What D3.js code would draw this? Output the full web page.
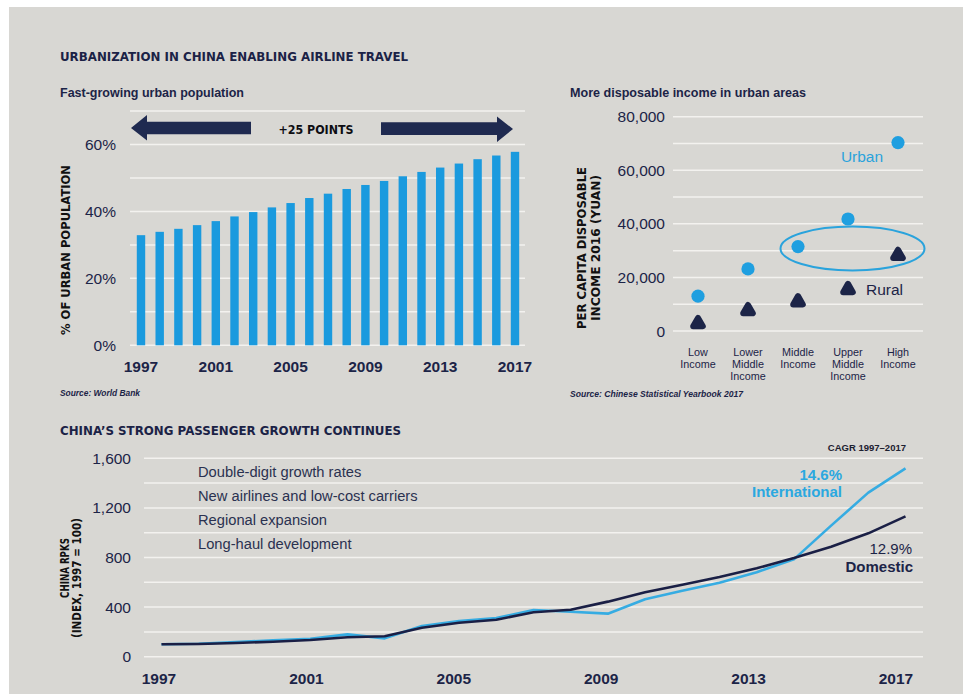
<!DOCTYPE html>
<html>
<head>
<meta charset="utf-8">
<script src="https://cdn.jsdelivr.net/npm/d3@7"></script>
<style>
  html, body { margin: 0; padding: 0; background: #ffffff; }
  svg { display: block; font-family: "Liberation Sans", Arial, Helvetica, sans-serif; }
</style>
</head>
<body>
<svg id="chart" width="966" height="694"></svg>
<script>
// ---------- DATA ----------
const years = d3.range(1997, 2018);
const urbanShare = [32.9, 33.9, 34.8, 35.9, 37.1, 38.5, 39.8, 41.2, 42.5, 44.0, 45.3, 46.7, 47.9, 49.1, 50.5, 51.8, 53.1, 54.3, 55.6, 56.7, 57.8];
const barYTicks = [0, 20, 40, 60];
const barXTicks = [1997, 2001, 2005, 2009, 2013, 2017];

const incomeGroups = ["Low Income", "Lower Middle Income", "Middle Income", "Upper Middle Income", "High Income"];
const incomeLabels = [["Low", "Income"], ["Lower", "Middle", "Income"], ["Middle", "Income"], ["Upper", "Middle", "Income"], ["High", "Income"]];
const urbanIncome = [13004, 23189, 31522, 41806, 70348];
const ruralIncome = [3006, 7828, 11159, 15727, 28448];
const incomeTicks = [0, 20000, 40000, 60000, 80000];

const rpkYears = d3.range(1997, 2018);
const domestic = [100, 102, 110, 121, 135, 157, 165, 234, 274, 298, 358, 379, 444, 519, 581, 643, 713, 796, 887, 995, 1132];
const international = [100, 105, 118, 132, 145, 180, 148, 248, 288, 312, 376, 363, 347, 463, 532, 597, 681, 785, 1057, 1323, 1519];
const rpkYTicks = [0, 400, 800, 1200, 1600];
const rpkXTicks = [1997, 2001, 2005, 2009, 2013, 2017];
const bullets = ["Double-digit growth rates", "New airlines and low-cost carriers", "Regional expansion", "Long-haul development"];

// ---------- STYLE ----------
const NAVY = "#1c2447";
const BAR = "#1a9ade";
const URBAN = "#1f9fe0";
const LIGHT = "#36ace2";
const GRID = "#f3f2ef";
const HEAVY = "'DejaVu Sans', 'Liberation Sans', Arial, sans-serif";

const svg = d3.select("#chart");
svg.append("rect").attr("x", 9).attr("y", 7).attr("width", 954).attr("height", 687).attr("fill", "#d8d7d3");

function txt(x, y, s, o = {}) {
  const t = svg.append("text").attr("x", x).attr("y", y).text(s)
    .attr("fill", o.fill || NAVY)
    .attr("font-size", o.size || 15)
    .attr("font-weight", o.weight || "normal")
    .attr("text-anchor", o.anchor || "start");
  if (o.family) t.attr("font-family", o.family);
  if (o.style) t.attr("font-style", o.style);
  if (o.len) t.attr("textLength", o.len).attr("lengthAdjust", "spacingAndGlyphs");
  return t;
}

// ---------- TITLES ----------
txt(60, 61, "URBANIZATION IN CHINA ENABLING AIRLINE TRAVEL", {size: 11.5, weight: "bold", len: 348, family: HEAVY, fill: "#1b2246"});
txt(60, 97, "Fast-growing urban population", {size: 12.5, weight: "bold", len: 184});
txt(570, 97, "More disposable income in urban areas", {size: 12.5, weight: "bold", len: 236});
txt(60, 396, "Source: World Bank", {size: 9.5, weight: "bold", style: "italic", len: 80});
txt(570, 397, "Source: Chinese Statistical Yearbook 2017", {size: 9.5, weight: "bold", style: "italic", len: 173});
txt(60, 435, "CHINA\u2019S STRONG PASSENGER GROWTH CONTINUES", {size: 11.5, weight: "bold", len: 341, family: HEAVY, fill: "#1b2246"});

// ---------- BAR CHART ----------
const bx = d3.scalePoint().domain(years).range([141, 515]);
const by = d3.scaleLinear().domain([0, 70]).range([345.3, 111]);
const bw = bx.step() * 0.45;

const bg = svg.append("g");
bg.selectAll("line.grid").data(d3.range(0, 71, 10)).join("line")
  .attr("x1", 130).attr("x2", 525)
  .attr("y1", d => by(d)).attr("y2", d => by(d))
  .attr("stroke", GRID).attr("stroke-width", 1.5);

bg.selectAll("rect.bar").data(years).join("rect")
  .attr("x", (d) => bx(d) - bw / 2)
  .attr("width", bw)
  .attr("y", (d, i) => by(urbanShare[i]))
  .attr("height", (d, i) => by(0) - by(urbanShare[i]))
  .attr("fill", BAR);

bg.selectAll("text.yt").data(barYTicks).join("text")
  .attr("x", 116).attr("y", d => by(d)).attr("dy", "0.36em")
  .attr("text-anchor", "end").attr("font-size", 15.5).attr("fill", NAVY)
  .text(d => d + "%");

bg.selectAll("text.xt").data(barXTicks).join("text")
  .attr("x", d => bx(d)).attr("y", 372)
  .attr("text-anchor", "middle").attr("font-size", 15.5).attr("font-weight", "bold").attr("fill", NAVY)
  .text(d => d);

svg.append("text").attr("transform", "translate(69.5,250) rotate(-90)")
  .attr("text-anchor", "middle").attr("font-size", 12.5).attr("font-weight", "bold").attr("fill", "#111")
  .attr("font-family", HEAVY).attr("textLength", 170).attr("lengthAdjust", "spacingAndGlyphs")
  .text("% OF URBAN POPULATION");

// arrows
const ay = 128;
const lt = bx(1997) - 10, rt = bx(2017) - 2;
svg.append("path").attr("fill", "#1f2a50")
  .attr("d", `M${lt},${ay} L${lt + 16},${ay - 13} L${lt + 16},${ay - 6.3} L251,${ay - 6.3} L251,${ay + 6.3} L${lt + 16},${ay + 6.3} L${lt + 16},${ay + 12.5} Z`);
svg.append("path").attr("fill", "#1f2a50")
  .attr("d", `M${rt},${ay + 1} L${rt - 16},${ay - 11.5} L${rt - 16},${ay - 5.8} L381,${ay - 5.8} L381,${ay + 7} L${rt - 16},${ay + 7} L${rt - 16},${ay + 14} Z`);
txt(316, 134, "+25 POINTS", {size: 12, weight: "bold", anchor: "middle", fill: "#0d0d12", family: HEAVY, len: 75});

// ---------- SCATTER ----------
const sx = d3.scalePoint().domain(incomeGroups).range([698, 898]);
const sy = d3.scaleLinear().domain([0, 80000]).range([331, 116.7]);
const sg = svg.append("g");
sg.selectAll("line").data(d3.range(0, 80001, 10000)).join("line")
  .attr("x1", 673).attr("x2", 923)
  .attr("y1", d => sy(d)).attr("y2", d => sy(d))
  .attr("stroke", GRID).attr("stroke-width", 1.5);
sg.selectAll("text.yt").data(incomeTicks).join("text")
  .attr("x", 665).attr("y", d => sy(d)).attr("dy", "0.36em")
  .attr("text-anchor", "end").attr("font-size", 15.5).attr("fill", NAVY)
  .text(d => d3.format(",")(d));

incomeGroups.forEach((g, i) => {
  const t = sg.append("text").attr("x", sx(g)).attr("y", 355.5)
    .attr("text-anchor", "middle").attr("font-size", 10.8).attr("fill", NAVY);
  incomeLabels[i].forEach((l, j) => t.append("tspan").attr("x", sx(g)).attr("dy", j === 0 ? 0 : 12).text(l));
});

// ellipse highlight
sg.append("ellipse")
  .attr("cx", (sx("Middle Income") + sx("High Income")) / 2 + 4.5)
  .attr("cy", sy(30800)).attr("rx", 72).attr("ry", 22)
  .attr("fill", "none").attr("stroke", "#2aa3dc").attr("stroke-width", 2);

sg.selectAll("circle").data(incomeGroups).join("circle")
  .attr("cx", d => sx(d)).attr("cy", (d, i) => sy(urbanIncome[i])).attr("r", 6.6)
  .attr("fill", URBAN);

const tri = d3.symbol().type(d3.symbolTriangle).size(40);
sg.selectAll("path.rural").data(incomeGroups).join("path")
  .attr("transform", (d, i) => `translate(${sx(d)},${sy(ruralIncome[i]) + 0.5})`)
  .attr("d", tri())
  .attr("fill", NAVY).attr("stroke", NAVY).attr("stroke-width", 6).attr("stroke-linejoin", "round");

txt(862, 162, "Urban", {size: 15.5, anchor: "middle", fill: "#2aa3dc"});
txt(866, 295, "Rural", {size: 15.5, fill: NAVY});

svg.append("text").attr("transform", "translate(586,248) rotate(-90)")
  .attr("text-anchor", "middle").attr("font-size", 12).attr("font-weight", "bold").attr("fill", "#111")
  .attr("font-family", HEAVY).attr("textLength", 162).attr("lengthAdjust", "spacingAndGlyphs")
  .text("PER CAPITA DISPOSABLE");
svg.append("text").attr("transform", "translate(600,248) rotate(-90)")
  .attr("text-anchor", "middle").attr("font-size", 12).attr("font-weight", "bold").attr("fill", "#111")
  .attr("font-family", HEAVY).attr("textLength", 146).attr("lengthAdjust", "spacingAndGlyphs")
  .text("INCOME 2016 (YUAN)");

// ---------- LINE CHART ----------
const lx = d3.scaleLinear().domain([1997, 2017]).range([161.5, 905.5]);
const lxLab = d3.scaleLinear().domain([1997, 2017]).range([159, 896]);
const ly = d3.scaleLinear().domain([0, 1600]).range([656.7, 458.3]);
const lg = svg.append("g");
lg.selectAll("line").data(d3.range(0, 1601, 200)).join("line")
  .attr("x1", 144).attr("x2", 923)
  .attr("y1", d => ly(d)).attr("y2", d => ly(d))
  .attr("stroke", GRID).attr("stroke-width", 1.5);
lg.selectAll("text.yt").data(rpkYTicks).join("text")
  .attr("x", 131).attr("y", d => ly(d)).attr("dy", "0.36em")
  .attr("text-anchor", "end").attr("font-size", 15.5).attr("fill", NAVY)
  .text(d => d3.format(",")(d));
lg.selectAll("text.xt").data(rpkXTicks).join("text")
  .attr("x", d => lxLab(d)).attr("y", 684)
  .attr("text-anchor", "middle").attr("font-size", 15.5).attr("font-weight", "bold").attr("fill", NAVY)
  .text(d => d);

const line = d3.line().x(d => lx(d[0])).y(d => ly(d[1]));
lg.append("path").datum(rpkYears.map((y, i) => [y, international[i]]))
  .attr("d", line).attr("fill", "none").attr("stroke", LIGHT).attr("stroke-width", 2.6).attr("stroke-linejoin", "round");
lg.append("path").datum(rpkYears.map((y, i) => [y, domestic[i]]))
  .attr("d", line).attr("fill", "none").attr("stroke", "#1a1f45").attr("stroke-width", 2.6).attr("stroke-linejoin", "round");

bullets.forEach((b, i) => txt(198, 477.3 + i * 24, b, {size: 14.7, fill: "#2a3150"}));

txt(906, 451, "CAGR 1997\u20132017", {size: 9.5, weight: "bold", anchor: "end", fill: "#1c2030"});
txt(842, 480, "14.6%", {size: 15, weight: "bold", anchor: "end", fill: "#2aa8e0"});
txt(842, 496.5, "International", {size: 15, weight: "bold", anchor: "end", fill: "#2aa8e0"});
txt(912, 554, "12.9%", {size: 15, anchor: "end", fill: NAVY});
txt(913, 571.5, "Domestic", {size: 15, weight: "bold", anchor: "end", fill: NAVY});

svg.append("text").attr("transform", "translate(69,568) rotate(-90)")
  .attr("text-anchor", "middle").attr("font-size", 11.5).attr("font-weight", "bold").attr("fill", "#111")
  .attr("font-family", HEAVY).attr("textLength", 60).attr("lengthAdjust", "spacingAndGlyphs")
  .text("CHINA RPKS");
svg.append("text").attr("transform", "translate(80.5,578) rotate(-90)")
  .attr("text-anchor", "middle").attr("font-size", 11.5).attr("font-weight", "bold").attr("fill", "#111")
  .attr("font-family", HEAVY).attr("textLength", 120).attr("lengthAdjust", "spacingAndGlyphs")
  .text("(INDEX, 1997 = 100)");
</script>
</body>
</html>
